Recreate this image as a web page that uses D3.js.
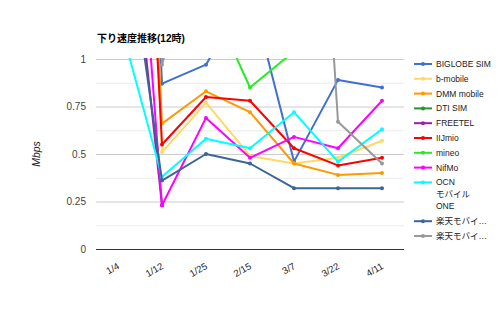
<!DOCTYPE html>
<html>
<head>
<meta charset="utf-8">
<script src="https://cdn.jsdelivr.net/npm/d3@7"></script>
<style>
  html, body { margin: 0; padding: 0; background: #fff; }
  svg { display: block; font-family: "Liberation Sans", Arial, "Noto Sans CJK JP", sans-serif; }
</style>
</head>
<body>
<svg id="chart" width="500" height="309"></svg>
<script>
// Download speed (Mbps) measured at 12:00, per MVNO
const categories = ["1/4", "1/12", "1/25", "2/15", "3/7", "3/22", "4/11"];
const seriesNames = ["BIGLOBE SIM", "b-mobile", "DMM mobile", "DTI SIM", "FREETEL", "IIJmio", "mineo", "NifMo", "OCN モバイル ONE", "楽天モバイ…", "楽天モバイ…"];
const seriesColors = ["#3f6fd1", "#ffd966", "#ff9900", "#1f9a2a", "#9a1fa8", "#ff0000", "#22ee22", "#ff00ff", "#00ffff", "#3c6596", "#999999"];

const biglobe  = [6.0, 0.87, 0.97, 1.37, 0.46, 0.89, 0.85];
const bmobile  = [6.5, 0.51, 0.77, 0.49, 0.45, 0.48, 0.57];
const dmm      = [5.5, 0.66, 0.83, 0.72, 0.45, 0.39, 0.40];
const dti      = [3.0, 1.50, 1.60, 1.40, 1.80, 1.50, 1.60];
const freetel  = [2.4, 0.23, null, null, null, null, null];
const iijmio   = [5.0, 0.55, 0.80, 0.78, 0.53, 0.44, 0.48];
const mineo    = [4.0, 1.60, 1.36, 0.85, 1.04, 1.30, 1.40];
const nifmo    = [3.3, 0.23, 0.69, 0.48, 0.59, 0.53, 0.78];
const ocn      = [1.23, 0.38, 0.58, 0.53, 0.72, 0.46, 0.63];
const rakuten1 = [2.0, 0.36, 0.50, 0.45, 0.32, 0.32, 0.32];
const rakuten2 = [6.0, 0.97, 1.80, 2.50, 4.30, 0.67, 0.45];

const yTicks = [0, 0.25, 0.5, 0.75, 1];
const yTickLabels = ["0", "0.25", "0.5", "0.75", "1"];
const yMinorTicks = [0.125, 0.375, 0.625, 0.875];

const allValues = [biglobe, bmobile, dmm, dti, freetel, iijmio, mineo, nifmo, ocn, rakuten1, rakuten2];
const series = seriesNames.map((name, i) => ({ name, color: seriesColors[i], values: allValues[i] }));

const svg = d3.select("#chart");
const plot = { left: 96, right: 404, top: 59, bottom: 249 };

const xBand = d3.scaleBand().domain(categories).range([plot.left, plot.right]);
const xc = c => xBand(c) + xBand.bandwidth() / 2;
const y = d3.scaleLinear().domain([0, 1]).range([plot.bottom, plot.top]);

// title
svg.append("text")
  .attr("x", 97).attr("y", 42)
  .attr("font-size", 10).attr("font-weight", "bold").attr("fill", "#000")
  .text("下り速度推移(12時)");

// minor gridlines
svg.append("g")
  .attr("transform", `translate(${plot.left},0)`)
  .call(d3.axisLeft(y).tickValues(yMinorTicks).tickSize(-(plot.right - plot.left)).tickFormat(""))
  .call(g => g.select(".domain").remove())
  .call(g => g.selectAll("line").attr("stroke", "#ebebeb"));

// major gridlines and labels
svg.append("g")
  .attr("transform", `translate(${plot.left},0)`)
  .call(d3.axisLeft(y).tickValues(yTicks).tickSize(-(plot.right - plot.left)).tickPadding(10)
    .tickFormat((d, i) => yTickLabels[i]))
  .call(g => g.select(".domain").remove())
  .call(g => g.selectAll("line").attr("stroke", d => d === 0 ? "#333" : "#cccccc"))
  .call(g => g.selectAll("text").attr("font-size", 10).attr("fill", "#444")
    .attr("font-family", "'Liberation Sans', Arial, sans-serif"));

// y-axis title
svg.append("text")
  .attr("transform", `translate(40,${(plot.top + plot.bottom) / 2}) rotate(-90)`)
  .attr("text-anchor", "middle")
  .attr("font-size", 10.5).attr("font-style", "italic").attr("fill", "#222")
  .text("Mbps");

// x-axis labels
const xAxis = svg.append("g")
  .attr("transform", `translate(0,${plot.bottom})`)
  .call(d3.axisBottom(xBand).tickSize(0).tickPadding(0))
  .call(g => g.select(".domain").remove());
xAxis.selectAll(".tick text")
  .attr("font-size", 9.5).attr("fill", "#222")
  .attr("font-family", "'Liberation Sans', Arial, sans-serif")
  .attr("text-anchor", "end")
  .attr("dy", 0)
  .attr("y", 0)
  .attr("transform", "translate(2,19) rotate(-30)");

// clip lines to the plotting area
svg.append("defs").append("clipPath").attr("id", "plotClip")
  .append("rect")
  .attr("x", plot.left).attr("y", plot.top - 1)
  .attr("width", plot.right - plot.left).attr("height", plot.bottom - plot.top + 2);

const lines = svg.append("g").attr("clip-path", "url(#plotClip)");
const line = d3.line()
  .defined(d => d.v !== null)
  .x(d => xc(d.c))
  .y(d => y(d.v));

series.forEach(s => {
  const pts = s.values.map((v, i) => ({ c: categories[i], v }));
  const g = lines.append("g");
  g.append("path")
    .datum(pts)
    .attr("fill", "none")
    .attr("stroke", s.color)
    .attr("stroke-width", 2)
    .attr("stroke-linejoin", "round")
    .attr("d", line);
  g.selectAll("circle")
    .data(pts.filter(d => d.v !== null))
    .join("circle")
    .attr("cx", d => xc(d.c))
    .attr("cy", d => y(d.v))
    .attr("r", 2)
    .attr("fill", s.color);
});

// legend
const legend = svg.append("g");
let ly = 64;
series.forEach(s => {
  const g = legend.append("g").attr("transform", `translate(0,${ly})`);
  g.append("line").attr("x1", 414).attr("x2", 432).attr("y1", 0).attr("y2", 0)
    .attr("stroke", s.color).attr("stroke-width", 2);
  g.append("circle").attr("cx", 423).attr("cy", 0).attr("r", 2).attr("fill", s.color);
  const parts = s.name === "OCN モバイル ONE" ? ["OCN", "モバイル", "ONE"] : [s.name];
  parts.forEach((p, k) => {
    g.append("text")
      .attr("x", 436).attr("y", k * 12).attr("dy", "0.35em")
      .attr("font-size", 8.5).attr("fill", "#222")
      .text(p);
  });
  ly += 14.8 + (parts.length - 1) * 12;
});
</script>
</body>
</html>
